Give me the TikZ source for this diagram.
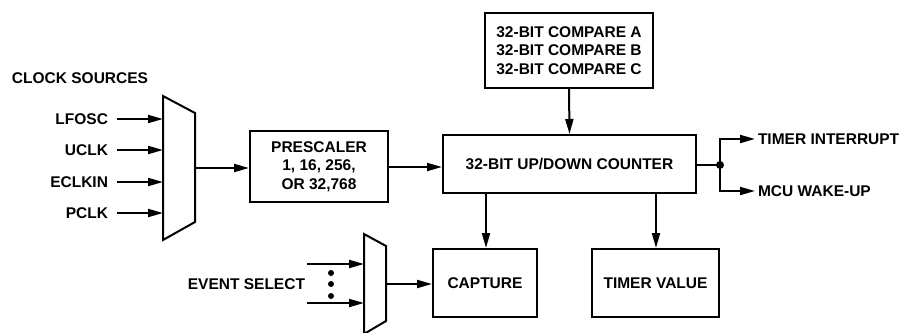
\documentclass[tikz,border=0pt]{standalone}
\usepackage{fontspec}
\setmainfont{Liberation Sans}
\usetikzlibrary{arrows.meta}
\begin{document}
\begin{tikzpicture}[x=1pt,y=-1pt,
  line width=2pt,
  every node/.style={font=\fontsize{15.5}{18.5}\selectfont\bfseries, inner sep=0pt},
  arr/.style={-{Triangle[length=15pt,width=8pt]}},
  blk/.style={draw, align=center}]
\useasboundingbox (0,0) rectangle (902,332);
% clock sources
\node[anchor=west] (cs) at (11,78) {CLOCK SOURCES};
\draw (163,96) -- (195,113) -- (195,222) -- (163,240) -- cycle;
\coordinate (m1out) at (195,168);
\foreach \n/\t/\y in {lf/LFOSC/119, uc/UCLK/150, ec/ECLKIN/182, pc/PCLK/213}{
  \node[anchor=east] (\n) at (109,\y) {\t};
  \coordinate (\n s) at (117,\y);
  \coordinate (\n e) at (163,\y);
  \draw[arr] (\n s) -- (\n e);
}
% prescaler
\node[blk, minimum width=138pt, minimum height=71pt] (pre) at (319,166.5) {PRESCALER\\1, 16, 256,\\OR 32,768};
\draw[arr] (m1out) -- (m1out -| pre.west);
% counter
\node[blk, minimum width=253pt, minimum height=58pt] (cnt) at (569.5,164) {32-BIT UP/DOWN COUNTER};
\draw[arr] (pre.east |- 0,167) -- (cnt.west |- 0,167);
% compare
\node[blk, minimum width=168pt, minimum height=75pt] (cmp) at (569,50.5) {32-BIT COMPARE A\\32-BIT COMPARE B\\32-BIT COMPARE C};
\draw[arr] (cmp.south) -- (cnt.north);
% outputs
\coordinate (dot) at (720,165);
\fill (dot) circle (4pt);
\draw (cnt.east |- dot) -- (dot);
\coordinate (ti) at (755,139);
\coordinate (mw) at (755,191);
\draw[arr] (dot) |- (ti);
\draw[arr] (dot) |- (mw);
\node[anchor=west] (til) at (757,139) {TIMER INTERRUPT};
\node[anchor=west] (mwl) at (757,191) {MCU WAKE-UP};
% capture & timer value
\node[blk, minimum width=104pt, minimum height=68pt] (cap) at (485,283) {CAPTURE};
\node[blk, minimum width=127pt, minimum height=68pt] (tv) at (655.5,283) {TIMER VALUE};
\draw[arr] (cnt.south -| 486,0) -- (cap.north -| 486,0);
\draw[arr] (cnt.south -| 656,0) -- (tv.north -| 656,0);
% event select mux
\draw (364,234) -- (386,246) -- (386,321) -- (364,334) -- cycle;
\coordinate (m2out) at (386,284);
\draw[arr] (m2out) -- (cap.west |- m2out);
\node[anchor=east] (ev) at (306,284) {EVENT SELECT};
\coordinate (e1s) at (307,264); \coordinate (e1e) at (364,264);
\coordinate (e2s) at (307,303); \coordinate (e2e) at (364,303);
\draw[arr] (e1s) -- (e1e);
\draw[arr] (e2s) -- (e2e);
\foreach \y in {273,284,296} \fill (331,\y) circle (3pt);
\end{tikzpicture}
\end{document}
